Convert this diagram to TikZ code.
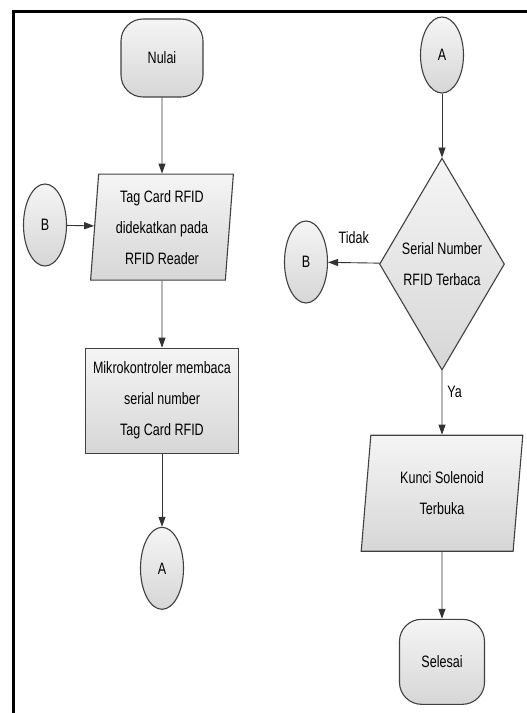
\documentclass[tikz,border=0pt]{standalone}
\usepackage{fontspec}
\setmainfont{Liberation Sans}[FakeStretch=0.76]
\usetikzlibrary{arrows.meta,positioning,shapes.geometric}

\begin{document}
\begin{tikzpicture}[
  x=1pt, y=-1pt,
  font=\fontsize{16.5}{31}\selectfont,
  base/.style={draw=black!75, line width=1.1pt, top color=gray!8, bottom color=gray!32, align=center, inner sep=0pt},
  terminal/.style={base, rectangle, rounded corners=22pt, minimum width=82pt, minimum height=78pt},
  connector/.style={base, ellipse, minimum width=43pt, minimum height=82pt},
  iobox/.style={base, trapezium, trapezium stretches=true, minimum height=106pt},
  process/.style={base, rectangle, minimum width=153pt, minimum height=105pt},
  decision/.style={base, diamond, aspect=0.6, minimum width=125pt, minimum height=212pt},
  label/.style={font=\fontsize{16.5}{18}\selectfont, inner sep=2pt},
  arr/.style={-{Triangle[length=10pt,width=7pt]}, line width=0.9pt, draw=black!80}
]
\useasboundingbox (0,0) rectangle (527,713);

% frame
\draw[line width=3pt] (13.5,713) -- (13.5,11.5) -- (527,11.5);

% left column
\node[terminal] (nulai) at (162,58) {Nulai};
\node[iobox, trapezium left angle=85.5, trapezium right angle=94.5, minimum width=143pt, below=76pt of nulai] (tagcard) {Tag Card RFID\\didekatkan pada\\RFID Reader};
\node[process, below=67pt of tagcard] (baca) {Mikrokontroler membaca\\serial number\\Tag Card RFID};
\node[connector, below=73pt of baca] (aout) {A};
\node[connector] (bin) at (45,225) {B};

\draw[arr] (nulai) -- (tagcard);
\draw[arr] (bin) -- (tagcard);
\draw[arr] (tagcard) -- (baca);
\draw[arr] (baca) -- (aout);

% right column
\node[connector, minimum height=76pt] (ain) at (442,55) {A};
\node[decision, below=64pt of ain] (cek) {Serial Number\\RFID Terbaca};
\node[connector] (bout) at (306,262) {B};
\node[iobox, trapezium left angle=82.5, trapezium right angle=97.5, minimum width=162pt, minimum height=116pt, below=64pt of cek] (kunci) {Kunci Solenoid\\Terbuka};
\node[terminal, minimum width=85pt, minimum height=85pt, below=67pt of kunci] (selesai) {Selesai};

\draw[arr] (ain) -- (cek);
\draw[arr] (cek) -- node[label, above=17pt] {Tidak} (bout);
\draw[arr] (cek) -- node[label, right=3pt, pos=0.33] {Ya} (kunci);
\draw[arr] (kunci) -- (selesai);

\end{tikzpicture}
\end{document}
